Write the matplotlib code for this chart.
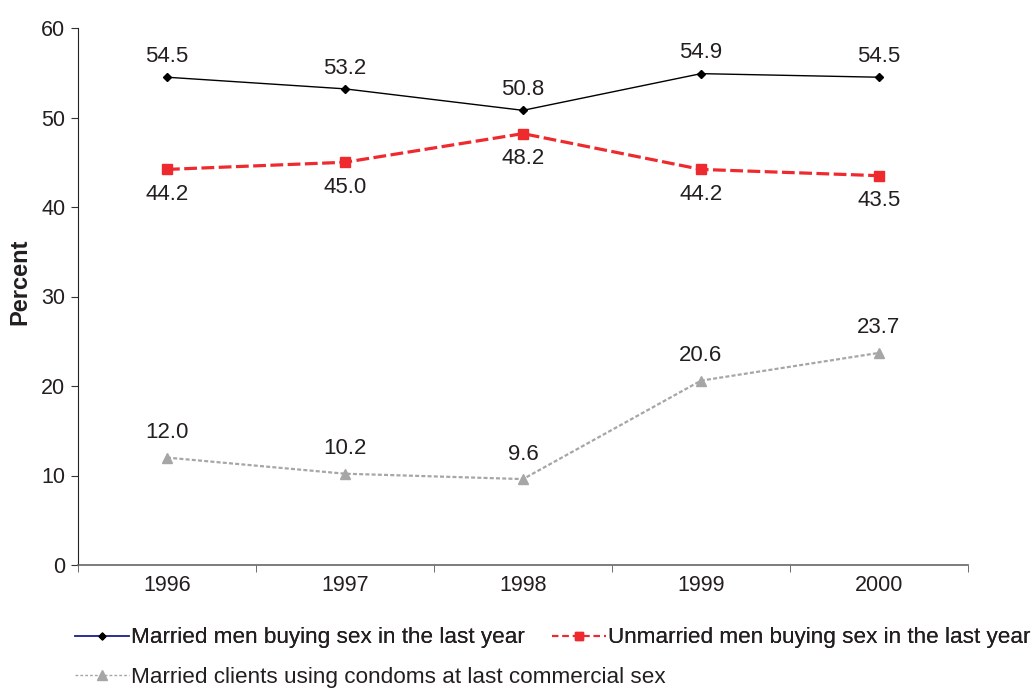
import matplotlib
matplotlib.use("Agg")
import matplotlib.pyplot as plt
from matplotlib.lines import Line2D

years = ["1996", "1997", "1998", "1999", "2000"]
married = [54.5, 53.2, 50.8, 54.9, 54.5]
unmarried = [44.2, 45.0, 48.2, 44.2, 43.5]
condoms = [12.0, 10.2, 9.6, 20.6, 23.7]
yticks = [0, 10, 20, 30, 40, 50, 60]

labels = ["Married men buying sex in the last year",
          "Unmarried men buying sex in the last year",
          "Married clients using condoms at last commercial sex"]

plt.rcParams['font.family'] = ['Liberation Sans', 'DejaVu Sans']
txt = '#231f20'

fig = plt.figure(figsize=(10.32, 6.89), dpi=100)
ax = fig.add_axes([78/1032, 1-565/689, 890/1032, (565-28)/689])

x = list(range(len(years)))
ax.plot(x, married, color='black', lw=1, marker='D', ms=4.5, zorder=3)
ax.plot(x, unmarried, color='#ee2a2e', lw=2.3, ls=(0, (4, 1.4)), marker='s', ms=6.5, zorder=3)
ax.plot(x, condoms, color='#a6a6a7', lw=1.6, ls=(0, (1.8, 1.0)), marker='^', ms=7.5, zorder=3)

for xi, v in zip(x, married):
    ax.annotate(f"{v:.1f}", (xi, v), xytext=(0, 15), textcoords='offset points',
                ha='center', va='center', fontsize=16, color=txt)
for xi, v in zip(x, unmarried):
    ax.annotate(f"{v:.1f}", (xi, v), xytext=(0, -18), textcoords='offset points',
                ha='center', va='center', fontsize=16, color=txt)
for xi, v in zip(x, condoms):
    ax.annotate(f"{v:.1f}", (xi, v), xytext=(0, 18), textcoords='offset points',
                ha='center', va='center', fontsize=16, color=txt)

ax.set_xlim(-0.5, len(years) - 0.5)
ax.set_ylim(0, 60)
ax.set_yticks(yticks)
ax.set_yticklabels([str(t) for t in yticks], fontsize=15.5, color=txt)
ax.set_xticks(x)
ax.set_xticklabels(years, fontsize=15.5, color=txt)
ax.tick_params(axis='x', length=0, pad=7)
ax.set_xticks([i - 0.5 for i in range(len(years) + 1)], minor=True)
ax.tick_params(axis='x', which='minor', length=5, direction='out', color='#555555')
ax.tick_params(axis='y', length=5, direction='out', color='#333333', pad=4)
for s in ['top', 'right']:
    ax.spines[s].set_visible(False)
ax.spines['left'].set_color('#222222')
ax.spines['bottom'].set_color('#666666')
ax.spines['bottom'].set_linewidth(1.2)
fig.text(20/1032, 1-282/689, "Percent", rotation=90, ha='center', va='center',
         fontsize=17, fontweight='bold', color=txt)

h1 = Line2D([], [], color='#2b2f8f', lw=1.2, marker='D', ms=3.5, mfc='black', mec='black')
h2 = Line2D([], [], color='#ee2a2e', lw=1.5, ls=(0, (3, 2)), marker='s', ms=6)
h3 = Line2D([], [], color='#a6a6a7', lw=1, ls=(0, (2, 1.5)), marker='^', ms=7)
common = dict(loc='center left', frameon=False, fontsize=16.2, handlelength=2.4,
              handletextpad=0.1, columnspacing=1.2, borderaxespad=0, borderpad=0,
              labelcolor=txt)
leg1 = fig.legend([h1, h2], [labels[0], labels[1]], ncol=2,
                  bbox_to_anchor=(75/1032, 1-638/689), **common)
fig.add_artist(leg1)
fig.legend([h3], [labels[2]], bbox_to_anchor=(75/1032, 1-677/689), **common)

fig.savefig("out.png", dpi=100)
